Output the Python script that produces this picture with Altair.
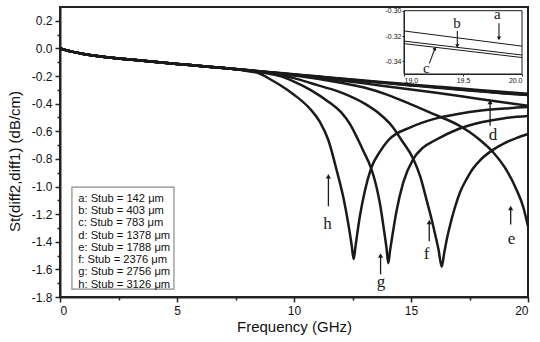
import altair as alt
import pandas as pd

# ---------------- data ----------------
curve_ids = ["a", "b", "c", "d", "e", "f", "g", "h"]
stub_um = [142, 403, 783, 1378, 1788, 2376, 2756, 3126]
legend_labels = [
    "a: Stub = 142 μm", "b: Stub = 403 μm", "c: Stub = 783 μm", "d: Stub = 1378 μm",
    "e: Stub = 1788 μm", "f:  Stub = 2376 μm", "g: Stub = 2756 μm", "h: Stub = 3126 μm",
]

# common low-frequency part shared by all curves
common_freq = [0, 0.25, 0.5, 1, 1.5, 2, 3, 4, 5, 6, 7]
common_val = [0.0, -0.012, -0.023, -0.040, -0.053, -0.064, -0.081, -0.097, -0.112, -0.127, -0.142]

abcd_freq = [8, 9, 10, 11, 12, 13, 14, 15, 16, 17, 18, 19, 20]
a_val = [-0.157, -0.172, -0.187, -0.202, -0.217, -0.232, -0.247, -0.261, -0.275, -0.289, -0.302, -0.316, -0.328]
b_val = [-0.157, -0.173, -0.189, -0.204, -0.220, -0.235, -0.251, -0.266, -0.280, -0.295, -0.309, -0.324, -0.335]
c_val = [-0.158, -0.174, -0.190, -0.206, -0.222, -0.237, -0.253, -0.268, -0.283, -0.297, -0.312, -0.326, -0.337]
d_val = [-0.158, -0.175, -0.193, -0.212, -0.232, -0.253, -0.275, -0.297, -0.319, -0.343, -0.368, -0.392, -0.415]

e_freq = [8, 9, 10, 11, 12, 13, 14, 15, 16, 17, 17.5, 18, 18.5, 19, 19.5, 19.8, 20]
e_val = [-0.159, -0.177, -0.196, -0.219, -0.248, -0.283, -0.336, -0.405, -0.478, -0.553, -0.605,
         -0.670, -0.750, -0.860, -1.020, -1.150, -1.290]

f_freq = [8, 9, 10, 10.7, 11, 12, 13, 13.7, 14.2, 14.6, 15.1, 15.4, 15.67, 15.9, 16.03, 16.18, 16.31,
          16.42, 16.52, 16.7, 16.88, 17.1, 17.38, 17.65, 17.95, 18.45, 19, 19.5, 20]
f_val = [-0.160, -0.182, -0.215, -0.250, -0.266, -0.318, -0.398, -0.480, -0.565, -0.665, -0.800, -0.930,
         -1.100, -1.250, -1.345, -1.460, -1.580, -1.480, -1.390, -1.260, -1.150, -1.040, -0.945, -0.870,
         -0.810, -0.740, -0.685, -0.650, -0.620]

g_freq = [8, 9, 9.4, 10, 10.7, 11.5, 12, 12.4, 12.75, 13.0, 13.29, 13.5, 13.68, 13.85, 13.95, 14.03,
          14.1, 14.2, 14.39, 14.67, 15.1, 15.5, 16.03, 17, 18, 19, 20]
g_val = [-0.159, -0.185, -0.200, -0.240, -0.300, -0.390, -0.460, -0.550, -0.665, -0.755, -0.865, -0.985,
         -1.130, -1.320, -1.440, -1.555, -1.470, -1.360, -1.170, -0.970, -0.800, -0.720, -0.665, -0.585,
         -0.535, -0.505, -0.490]

h_freq = [7.5, 8, 8.5, 9, 9.4, 10, 10.7, 11.1, 11.47, 11.82, 12.11, 12.32, 12.46, 12.55, 12.63, 12.82,
          13.03, 13.29, 13.68, 14.03, 15, 16, 17, 18, 19, 20]
h_val = [-0.151, -0.163, -0.180, -0.225, -0.265, -0.335, -0.440, -0.530, -0.665, -0.880, -1.080, -1.270,
         -1.420, -1.525, -1.430, -1.210, -1.030, -0.870, -0.745, -0.665, -0.570, -0.510, -0.475, -0.450,
         -0.435, -0.425]

tails = {
    "a": (abcd_freq, a_val), "b": (abcd_freq, b_val), "c": (abcd_freq, c_val), "d": (abcd_freq, d_val),
    "e": (e_freq, e_val), "f": (f_freq, f_val), "g": (g_freq, g_val), "h": (h_freq, h_val),
}

rows = []
for cid, lab in zip(curve_ids, legend_labels):
    fr, vl = tails[cid]
    for x, y in zip(common_freq + fr, common_val + vl):
        rows.append({"freq": x, "value": y, "curve": cid, "label": lab})
df = pd.DataFrame(rows)

# annotation letters in the main plot (letter, text pos, arrow x, arrow from/to)
ann_letter = ["d", "e", "f", "g", "h"]
ann_x = [18.50, 19.30, 15.67, 13.72, 11.43]
ann_y = [-0.665, -1.415, -1.526, -1.728, -1.304]
arr_x = [18.38, 19.26, 15.78, 13.70, 11.47]
arr_y0 = [-0.560, -1.275, -1.396, -1.636, -1.143]
arr_y1 = [-0.388, -1.155, -1.257, -1.499, -0.926]

# legend box corners (data units of the main plot)
box_x = [0.51]
box_x2 = [4.87]
box_y = [-1.005]
box_y2 = [-1.743]

# inset annotations
ins_letter = ["a", "b", "c"]
ins_x = [19.79, 19.45, 19.19]
ins_y = [-0.3068, -0.3139, -0.3490]
ins_ax0 = [19.805, 19.452, 19.215]
ins_ay0 = [-0.3100, -0.3160, -0.3416]
ins_ax1 = [19.805, 19.452, 19.263]
ins_ay1 = [-0.3218, -0.3279, -0.3297]
ins_head = ["triangle-down", "triangle-down", "triangle-up"]
ins_angle = [0, 0, 27]

major_y = [-1.8, -1.6, -1.4, -1.2, -1.0, -0.8, -0.6, -0.4, -0.2, 0.0, 0.2]
minor_y = [-1.7, -1.5, -1.3, -1.1, -0.9, -0.7, -0.5, -0.3, -0.1, 0.1]
major_x = [0, 5, 10, 15, 20]
minor_x = [2.5, 7.5, 12.5, 17.5]

# ---------------- chart ----------------
INK = "#1a1a1a"
minus_fix = "replace(datum.label, '−', '-')"

xs = alt.Scale(domain=[0, 20], nice=False, zero=False)
ys = alt.Scale(domain=[-1.8, 0.3], nice=False, zero=False)

box = alt.Chart(pd.DataFrame({"x": box_x, "x2": box_x2, "y": box_y, "y2": box_y2})).mark_rect(
    fill="white", stroke="#8a8a8a", strokeWidth=1.2).encode(
    x=alt.X("x:Q", scale=xs, axis=None), x2="x2:Q",
    y=alt.Y("y:Q", scale=ys, axis=None), y2="y2:Q")

lines = alt.Chart(df).mark_line(strokeWidth=2.5, interpolate="monotone").encode(
    x=alt.X("freq:Q", scale=xs, axis=alt.Axis(orient="bottom", values=major_x, format="d",
                                                 title="Frequency (GHz)", tickSize=5, labelPadding=3,
                                                 titlePadding=3)),
    y=alt.Y("value:Q", scale=ys, axis=alt.Axis(orient="left", values=major_y, format=".1f",
                                                  labelExpr=minus_fix, title="St(diff2,diff1) (dB/cm)",
                                                  tickSize=5, labelPadding=3, titlePadding=9, titleY=154)),
    color=alt.Color("label:N", scale=alt.Scale(domain=legend_labels, range=[INK] * 8),
                    legend=alt.Legend(orient="none", legendX=3, legendY=182, title=None, padding=4,
                                      labelFontSize=11.2, labelFont="Liberation Sans", labelColor="#111",
                                      symbolType="circle", symbolSize=0, symbolOpacity=0,
                                      symbolStrokeWidth=0, labelOffset=0, rowPadding=0.3,
                                      labelLimit=300)),
)

minor = alt.Chart(df).mark_point(opacity=0).encode(
    x=alt.X("freq:Q", scale=xs, title=None,
            axis=alt.Axis(orient="bottom", values=minor_x, labels=False, domain=False, tickSize=3)),
    y=alt.Y("value:Q", scale=ys, title=None,
            axis=alt.Axis(orient="left", values=minor_y, labels=False, domain=False, tickSize=3)),
)

ann_df = pd.DataFrame({"letter": ann_letter, "x": ann_x, "y": ann_y,
                       "ax": arr_x, "ay0": arr_y0, "ay1": arr_y1})
letters = alt.Chart(ann_df).mark_text(font="Liberation Serif", fontSize=17, baseline="alphabetic",
                                      align="center", color=INK).encode(
    x=alt.X("x:Q", scale=xs, axis=None), y=alt.Y("y:Q", scale=ys, axis=None), text="letter:N")
shafts = alt.Chart(ann_df).mark_rule(strokeWidth=1.3, color=INK).encode(
    x=alt.X("ax:Q", scale=xs, axis=None), y=alt.Y("ay0:Q", scale=ys, axis=None), y2="ay1:Q")
heads = alt.Chart(ann_df).mark_point(shape="triangle-up", filled=True, size=26, color=INK, opacity=1).encode(
    x=alt.X("ax:Q", scale=xs, axis=None), y=alt.Y("ay1:Q", scale=ys, axis=None))

# ---------------- inset ----------------
ixs = alt.Scale(domain=[19, 20], range=[344, 462], nice=False, zero=False)
iys = alt.Scale(domain=[-0.35, -0.30], range=[67, 3.7], nice=False, zero=False)

frame_df = pd.DataFrame({"x0": [19], "x1": [20], "y0": [-0.35], "y1": [-0.30]})
frame = alt.Chart(frame_df).mark_rect(fill="white", stroke=INK, strokeWidth=1).encode(
    x=alt.X("x0:Q", scale=ixs, axis=None), x2="x1:Q",
    y=alt.Y("y0:Q", scale=iys, axis=None), y2="y1:Q",
)
inset_axes = alt.Chart(frame_df).mark_point(opacity=0).encode(
    x=alt.X("x0:Q", scale=ixs, title=None,
            axis=alt.Axis(orient="bottom", offset=-223, values=[19.0, 19.5, 20.0], format=".1f",
                          labelFontSize=7, tickSize=2, tickWidth=1, domainWidth=1, labelPadding=0,
                          zindex=2)),
    y=alt.Y("y1:Q", scale=iys, title=None,
            axis=alt.Axis(orient="left", offset=-344, values=[-0.30, -0.32, -0.34], format=".2f",
                          labelExpr=minus_fix, labelFontSize=7, tickSize=2, tickWidth=1,
                          domainWidth=1, labelPadding=1, zindex=2)),
)

inset_df = df[df["curve"].isin(["a", "b", "c"]) & (df["freq"] >= 19)]
inset_lines = alt.Chart(inset_df).mark_line(strokeWidth=1, color=INK).encode(
    x=alt.X("freq:Q", scale=ixs, axis=None), y=alt.Y("value:Q", scale=iys, axis=None), detail="curve:N")

ins_df = pd.DataFrame({"letter": ins_letter, "x": ins_x, "y": ins_y, "ax0": ins_ax0, "ay0": ins_ay0,
                       "ax1": ins_ax1, "ay1": ins_ay1, "shape": ins_head, "angle": ins_angle})
ins_letters = alt.Chart(ins_df).mark_text(font="Liberation Serif", fontSize=15, baseline="alphabetic",
                                          align="center", color=INK).encode(
    x=alt.X("x:Q", scale=ixs, axis=None), y=alt.Y("y:Q", scale=iys, axis=None), text="letter:N")
ins_shafts = alt.Chart(ins_df).mark_rule(strokeWidth=1.1, color=INK).encode(
    x=alt.X("ax0:Q", scale=ixs, axis=None), x2="ax1:Q",
    y=alt.Y("ay0:Q", scale=iys, axis=None), y2="ay1:Q")
ins_heads = alt.Chart(ins_df).mark_point(filled=True, size=18, color=INK, opacity=1).encode(
    x=alt.X("ax1:Q", scale=ixs, axis=None), y=alt.Y("ay1:Q", scale=iys, axis=None),
    shape=alt.Shape("shape:N", scale=None, legend=None), angle=alt.Angle("angle:Q", scale=None))

chart = alt.layer(
    box, lines, minor, shafts, heads, letters,
    frame, inset_lines, ins_shafts, ins_heads, ins_letters, inset_axes,
).resolve_scale(
    x="independent", y="independent", color="independent", shape="independent", angle="independent"
).resolve_axis(x="independent", y="independent").properties(
    width=468, height=290,
    padding={"left": 60, "top": 7, "right": 12, "bottom": 45},
    autosize=alt.AutoSizeParams(type="none"),
    background="white",
).configure_view(
    stroke="#222222", strokeWidth=2
).configure_axis(
    domainColor="#222222", domainWidth=2, tickColor="#222222", tickWidth=1.5,
    labelColor="#111111", titleColor="#111111", labelFont="Liberation Sans", titleFont="Liberation Sans",
    labelFontSize=12, titleFontSize=15, titleFontWeight="normal", grid=False,
)

chart.save("out.html", embed_options={"renderer": "svg", "actions": False})
